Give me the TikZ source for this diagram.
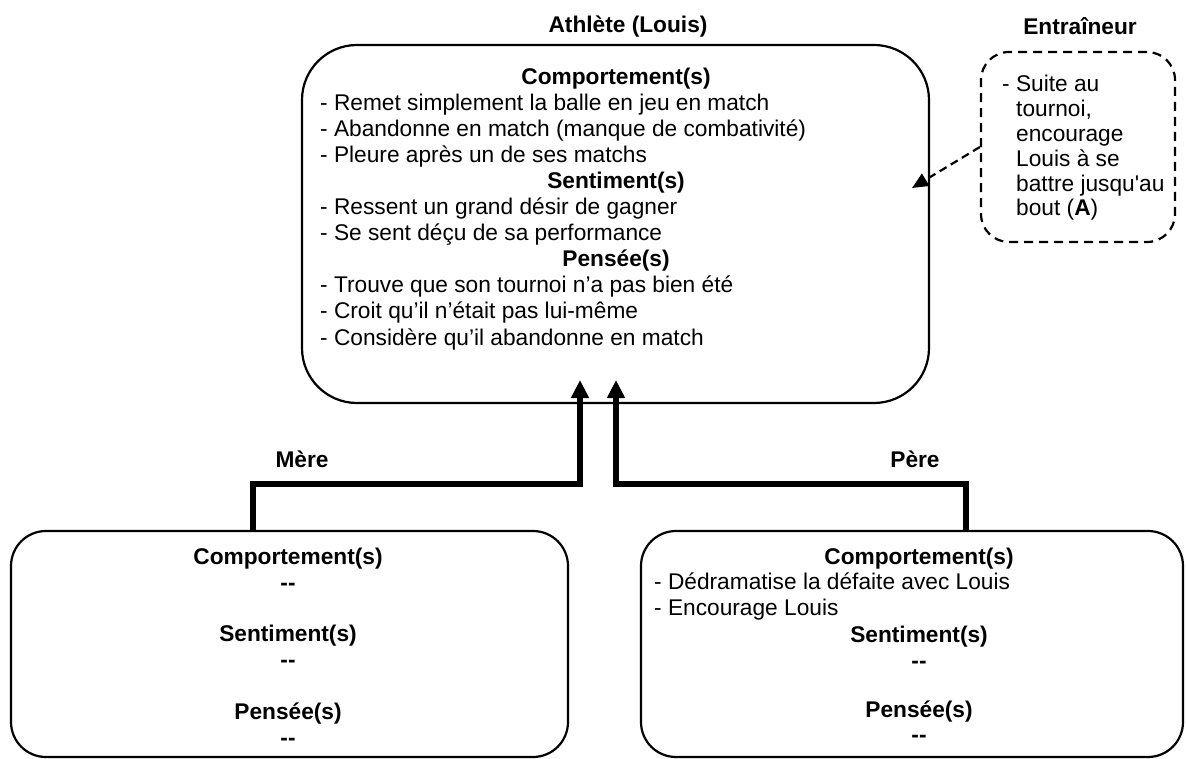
\documentclass[tikz,border=0pt]{standalone}
\usepackage{fontspec}
\setmainfont{Liberation Sans}
\usetikzlibrary{arrows.meta}
\begin{document}
\begin{tikzpicture}[x=1pt,y=-1pt,
  txt/.style={inner sep=0pt, font=\fontsize{22.7pt}{26pt}\selectfont},
  head/.style={inner sep=0pt, font=\fontsize{22.7pt}{26pt}\selectfont\bfseries, anchor=base},
  item/.style={txt, anchor=base west},
  panel/.style={draw, line width=2.2pt, rounded corners=#1, inner sep=0pt},
  dashpanel/.style={panel=#1, dash pattern=on 9pt off 6pt},
  link/.style={line width=5.5pt, -{Triangle[length=18pt,width=17pt]}},
  cue/.style={line width=2.2pt, dash pattern=on 8pt off 5pt, -{Triangle[length=16pt,width=14pt]}}
]
\useasboundingbox (0,0) rectangle (1186,759);

% panels
\node[panel=55pt, minimum width=627pt, minimum height=358pt] (athlete) at (615.5,224) {};
\node[dashpanel=28pt, minimum width=194pt, minimum height=190pt] (coach) at (1078,147) {};
\node[panel=35pt, minimum width=557pt, minimum height=226pt] (mere) at (289.5,644) {};
\node[panel=35pt, minimum width=542pt, minimum height=226pt] (pere) at (912,644) {};

% titles
\node[head] (tathlete) at (628,33) {Athlète (Louis)};
\node[head] (tcoach) at (1080,35) {Entraîneur};
\node[head] (tmere) at (302,467) {Mère};
\node[head] (tpere) at (915,467) {Père};

% athlete contents
\node[head] (ah1) at (616,85) {Comportement(s)};
\node[item] (a1) at (320,111) {- Remet simplement la balle en jeu en match};
\node[item] (a2) at (320,137) {- Abandonne en match (manque de combativité)};
\node[item] (a3) at (320,163) {- Pleure après un de ses matchs};
\node[head] (ah2) at (616,189) {Sentiment(s)};
\node[item] (a4) at (320,215) {- Ressent un grand désir de gagner};
\node[item] (a5) at (320,241) {- Se sent déçu de sa performance};
\node[head] (ah3) at (616,267) {Pensée(s)};
\node[item] (a6) at (320,293) {- Trouve que son tournoi n’a pas bien été};
\node[item] (a7) at (320,319) {- Croit qu’il n’était pas lui-même};
\node[item] (a8) at (320,345) {- Considère qu’il abandonne en match};

% coach contents
\node[item] (c1) at (1002,92) {- Suite au};
\node[item] (c2) at (1016,116.8) {tournoi,};
\node[item] (c3) at (1016,141.6) {encourage};
\node[item] (c4) at (1016,166.4) {Louis à se};
\node[item] (c5) at (1016,191.2) {battre jusqu\textquotesingle au};
\node[item] (c6) at (1016,216) {bout (\textbf{A})};

% mother contents
\node[head] (mh1) at (288,564) {Comportement(s)};
\node[head] (m1) at (288,590) {{-}{-}};
\node[head] (mh2) at (288,641) {Sentiment(s)};
\node[head] (m2) at (288,667) {{-}{-}};
\node[head] (mh3) at (288,719) {Pensée(s)};
\node[head] (m3) at (288,745) {{-}{-}};

% father contents
\node[head] (ph1) at (919,564) {Comportement(s)};
\node[item] (p1) at (654,589) {- Dédramatise la défaite avec Louis};
\node[item] (p2) at (654,615) {- Encourage Louis};
\node[head] (ph2) at (919,642) {Sentiment(s)};
\node[head] (p3) at (919,668) {{-}{-}};
\node[head] (ph3) at (919,717) {Pensée(s)};
\node[head] (p4) at (919,742) {{-}{-}};

% connectors
\coordinate (mjoin) at (253,484);
\coordinate (mtip) at (580,380);
\coordinate (pjoin) at (966,484);
\coordinate (ptip) at (616,380);
\coordinate (ctip) at (912,188);
\draw[link] (mere.north -| mjoin) -- (mjoin) -| (mtip);
\draw[link] (pere.north -| pjoin) -- (pjoin) -| (ptip);
\draw[cue] (coach.west) -- (ctip);
\end{tikzpicture}
\end{document}
